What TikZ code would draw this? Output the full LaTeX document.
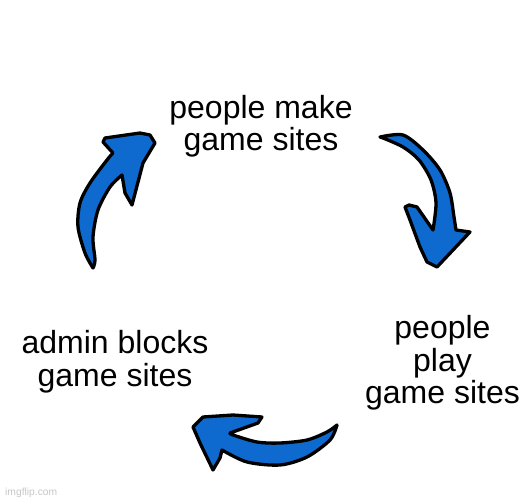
\documentclass[tikz,border=0pt]{standalone}
\usepackage{fontspec}
\setmainfont{Liberation Sans}
\definecolor{arrowblue}{RGB}{14,106,206}

\begin{document}
\begin{tikzpicture}[x=1pt,y=-1pt,
    bluearrow/.style={fill=arrowblue,draw=black,line width=3.3pt,line join=round},
    caption/.style={align=center,inner sep=0pt,anchor=base,font=\fontsize{32}{32.5}\selectfont}]
        \useasboundingbox (0,0) rectangle (531,500);
        \fill[white] (0,0) rectangle (531,500);
        % texts (base = last line)
        \node[caption] (make) at (261,151) {people make\\game sites};
        \node[caption] (play) at (442.5,403.5) {people\\play\\game sites};
        \node[caption] (block) at (115,386.5) {admin blocks\\game sites};
        \node[anchor=base west,inner sep=0pt,text=black!22,font=\fontsize{10.3}{12}\selectfont] (mark) at (5,495) {imgflip.com};
        % make -> play
        \filldraw[bluearrow] plot[smooth] coordinates {(380,137) (403,135) (423,150) (440,170) (450,193) (454,217) (456,230)}
            -- (470,232) -- (437,267) -- (427,262) -- (420,247) -- (410,220) -- (405,207) -- (409,205) -- (417,207)
            -- plot[smooth] coordinates {(433,230) (436,203) (431,180) (419,160) (403,147) (383,138)} -- cycle;
        % play -> block
        \filldraw[bluearrow] plot[smooth] coordinates {(337,425) (327,432) (307,440) (280,443) (257,442) (233,435) (230,433)}
            -- (258,423) -- (262,417) -- (233,415) -- (203,417) -- (193,427) -- (200,443) -- (213,470) -- (220,458)
            -- plot[smooth] coordinates {(222,450) (247,462) (280,465) (307,457) (330,440) (337,425)} -- cycle;
        % block -> make
        \filldraw[bluearrow] plot[smooth] coordinates {(93,268) (85,253) (78,227) (80,203) (90,183) (107,160) (113,153)}
            -- (103,142) -- (105,138) -- (140,133) -- (150,135) -- (155,143) -- (143,163) -- (132,205) -- (125,193)
            -- plot[smooth] coordinates {(122,175) (110,187) (98,210) (93,237) (95,260) (93,268)} -- cycle;
      \end{tikzpicture}
\end{document}
